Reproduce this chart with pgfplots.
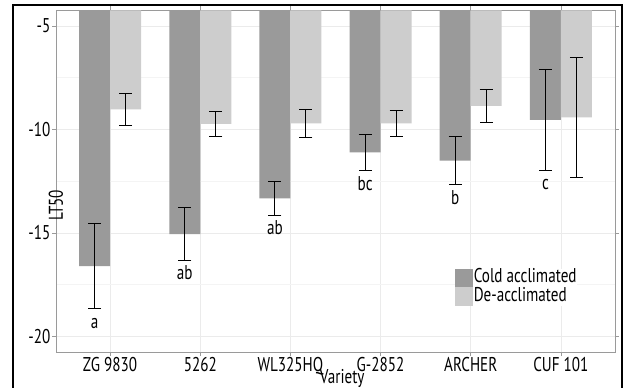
\documentclass[border=0pt]{standalone}
\usepackage{fontspec}
\setmainfont{PT Sans}[FakeStretch=0.76]
\usepackage{pgfplots}
\usepackage{pgfplotstable}
\pgfplotsset{compat=1.18}
\definecolor{cold}{HTML}{9A9A9A}
\definecolor{deacc}{HTML}{CDCDCD}
\definecolor{gridmaj}{HTML}{EBEBEB}
\definecolor{gridmin}{HTML}{F4F4F4}
\definecolor{axisgray}{HTML}{9A9A9A}

\pgfplotstableread{
x  y       e
0  -16.60  2.06
1  -15.05  1.30
2  -13.33  0.81
3  -11.10  0.88
4  -11.50  1.15
5  -9.54   2.46
}\colddata
\pgfplotstableread{
x  y       e
0  -9.03   0.75
1  -9.73   0.61
2  -9.70   0.66
3  -9.70   0.64
4  -8.86   0.78
5  -9.41   2.90
}\dedata

\begin{document}
\begin{tikzpicture}[font=\fontsize{20}{22}\selectfont]
\useasboundingbox (0,0) rectangle (626bp,388bp);
\draw[line width=1.5bp] (13bp,-2bp) -- (13bp,383bp) -- (622bp,383bp) -- (622bp,-2bp);
\begin{axis}[
  at={(56bp,36bp)}, anchor=south west,
  scale only axis, width=559bp, height=341.5bp,
  ybar, bar width=31bp,
  xmin=-0.6, xmax=5.6, ymin=-20.75, ymax=-4.25,
  xtick={0,...,5},
  xticklabels={ZG 9830,5262,WL325HQ,G-2852,ARCHER,CUF 101},
  ytick={-20,-15,-10,-5},
  minor ytick={-17.5,-12.5,-7.5},
  grid=both,
  major grid style={gridmaj, line width=0.8bp},
  minor grid style={gridmin, line width=0.6bp},
  axis line style={axisgray, line width=0.8bp},
  tick align=outside, major tick length=4bp, minor tick length=0bp,
  tick style={axisgray, line width=0.8bp},
  /pgf/number format/assume math mode=true,
  yticklabel style={inner sep=1.5bp},
  xticklabel style={inner sep=0pt, yshift=-1bp},
  ylabel={LT50},
  ylabel style={at={(axis description cs:0,0.52)}, anchor=center, xshift=-31bp},
  xlabel={Variety},
  xlabel style={at={(axis description cs:0.512,0)}, anchor=north, inner sep=0pt, yshift=-17bp},
  legend image code/.code={\path[#1] (0bp,-9.25bp) rectangle (18bp,9.25bp);},
  legend style={at={(axis description cs:0.714,0.244)}, anchor=north west,
    draw=none, fill=white, inner sep=0pt, row sep=0pt,
    nodes={inner sep=0.5bp, text height=13.5bp, text depth=4bp}},
  legend cell align=left,
]
\addplot[bar shift=-15.5bp, fill=cold, draw=none, forget plot,
  error bars/.cd, y dir=both, y explicit, error mark=|,
  error bar style={black, line width=0.9bp},
  error mark options={black, line width=0.9bp, mark size=6.5bp}]
  table[x=x, y=y, y error=e] {\colddata};
\addplot[bar shift=15.5bp, fill=deacc, draw=none, forget plot,
  error bars/.cd, y dir=both, y explicit, error mark=|,
  error bar style={black, line width=0.9bp},
  error mark options={black, line width=0.9bp, mark size=6.5bp}]
  table[x=x, y=y, y error=e] {\dedata};
\addlegendimage{fill=cold, draw=none}
\addlegendentry{Cold acclimated}
\addlegendimage{fill=deacc, draw=none}
\addlegendentry{De-acclimated}
\node at (axis cs:-0.1715,-19.35) {a};
\node at (axis cs:0.8285,-16.93) {ab};
\node at (axis cs:1.8285,-14.76) {ab};
\node at (axis cs:2.8285,-12.63) {bc};
\node at (axis cs:3.8285,-13.31) {b};
\node at (axis cs:4.8285,-12.68) {c};
\end{axis}
\end{tikzpicture}
\end{document}
